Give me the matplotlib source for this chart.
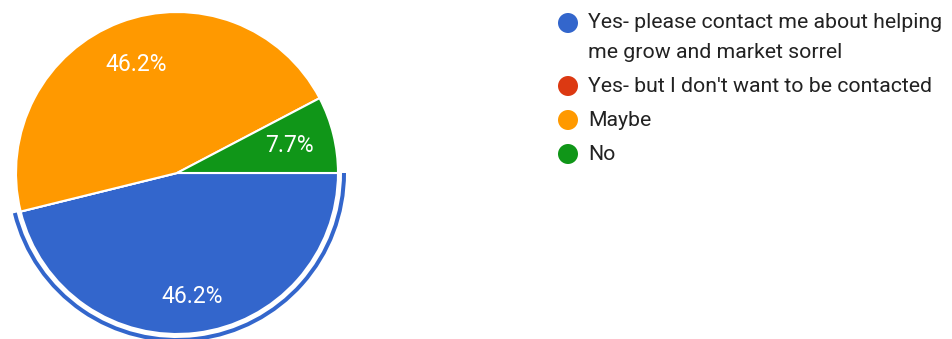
import math
import matplotlib.pyplot as plt
from matplotlib.patches import Wedge, Circle

plt.rcParams['font.family'] = ['Roboto', 'DejaVu Sans']

labels = [["Yes- please contact me about helping", "me grow and market sorrel"],
          ["Yes- but I don't want to be contacted"],
          ["Maybe"],
          ["No"]]
counts = [6, 0, 6, 1]
colors = ["#3366cc", "#dc3912", "#ff9900", "#109618"]

W, H = 952, 339
fig = plt.figure(figsize=(W / 100, H / 100), dpi=100)
ax = fig.add_axes([0, 0, 1, 1])

cx, cy, r = 177, 166, 161
total = sum(counts)

wedges, _ = ax.pie(counts, colors=colors, startangle=0, counterclock=False,
                   center=(cx, cy), radius=r, frame=True,
                   wedgeprops=dict(edgecolor="white", linewidth=1.5))
ax.set_xlim(0, W)
ax.set_ylim(0, H)
ax.set_aspect("equal")
ax.axis("off")

# percentage labels inside the slices
label_r = [0.77, 0, 0.72, 0.72]
for w, c, f in zip(wedges, counts, label_r):
    if c == 0:
        continue
    mid = math.radians((w.theta1 + w.theta2) / 2)
    x = cx + f * r * math.cos(mid)
    y = cy + f * r * math.sin(mid)
    ax.text(x, y, f"{100 * c / total:.1f}%", color="white", fontsize=16.5,
            ha="center", va="center")

# highlight ring around the first slice
w0 = wedges[0]
ax.add_patch(Wedge((cx, cy), r + 8, w0.theta1, w0.theta2, width=4,
                   facecolor=colors[0], edgecolor="none"))

# legend
ys = [H - 23, H - 86, H - 120, H - 154]
for lines, col, y in zip(labels, colors, ys):
    ax.add_patch(Circle((568, y), 10, facecolor=col, edgecolor="none"))
    for i, line in enumerate(lines):
        ax.text(588, y - 30 * i, line, fontsize=15.3, color="#222222",
                va="center")

fig.savefig("out.png", dpi=100)
